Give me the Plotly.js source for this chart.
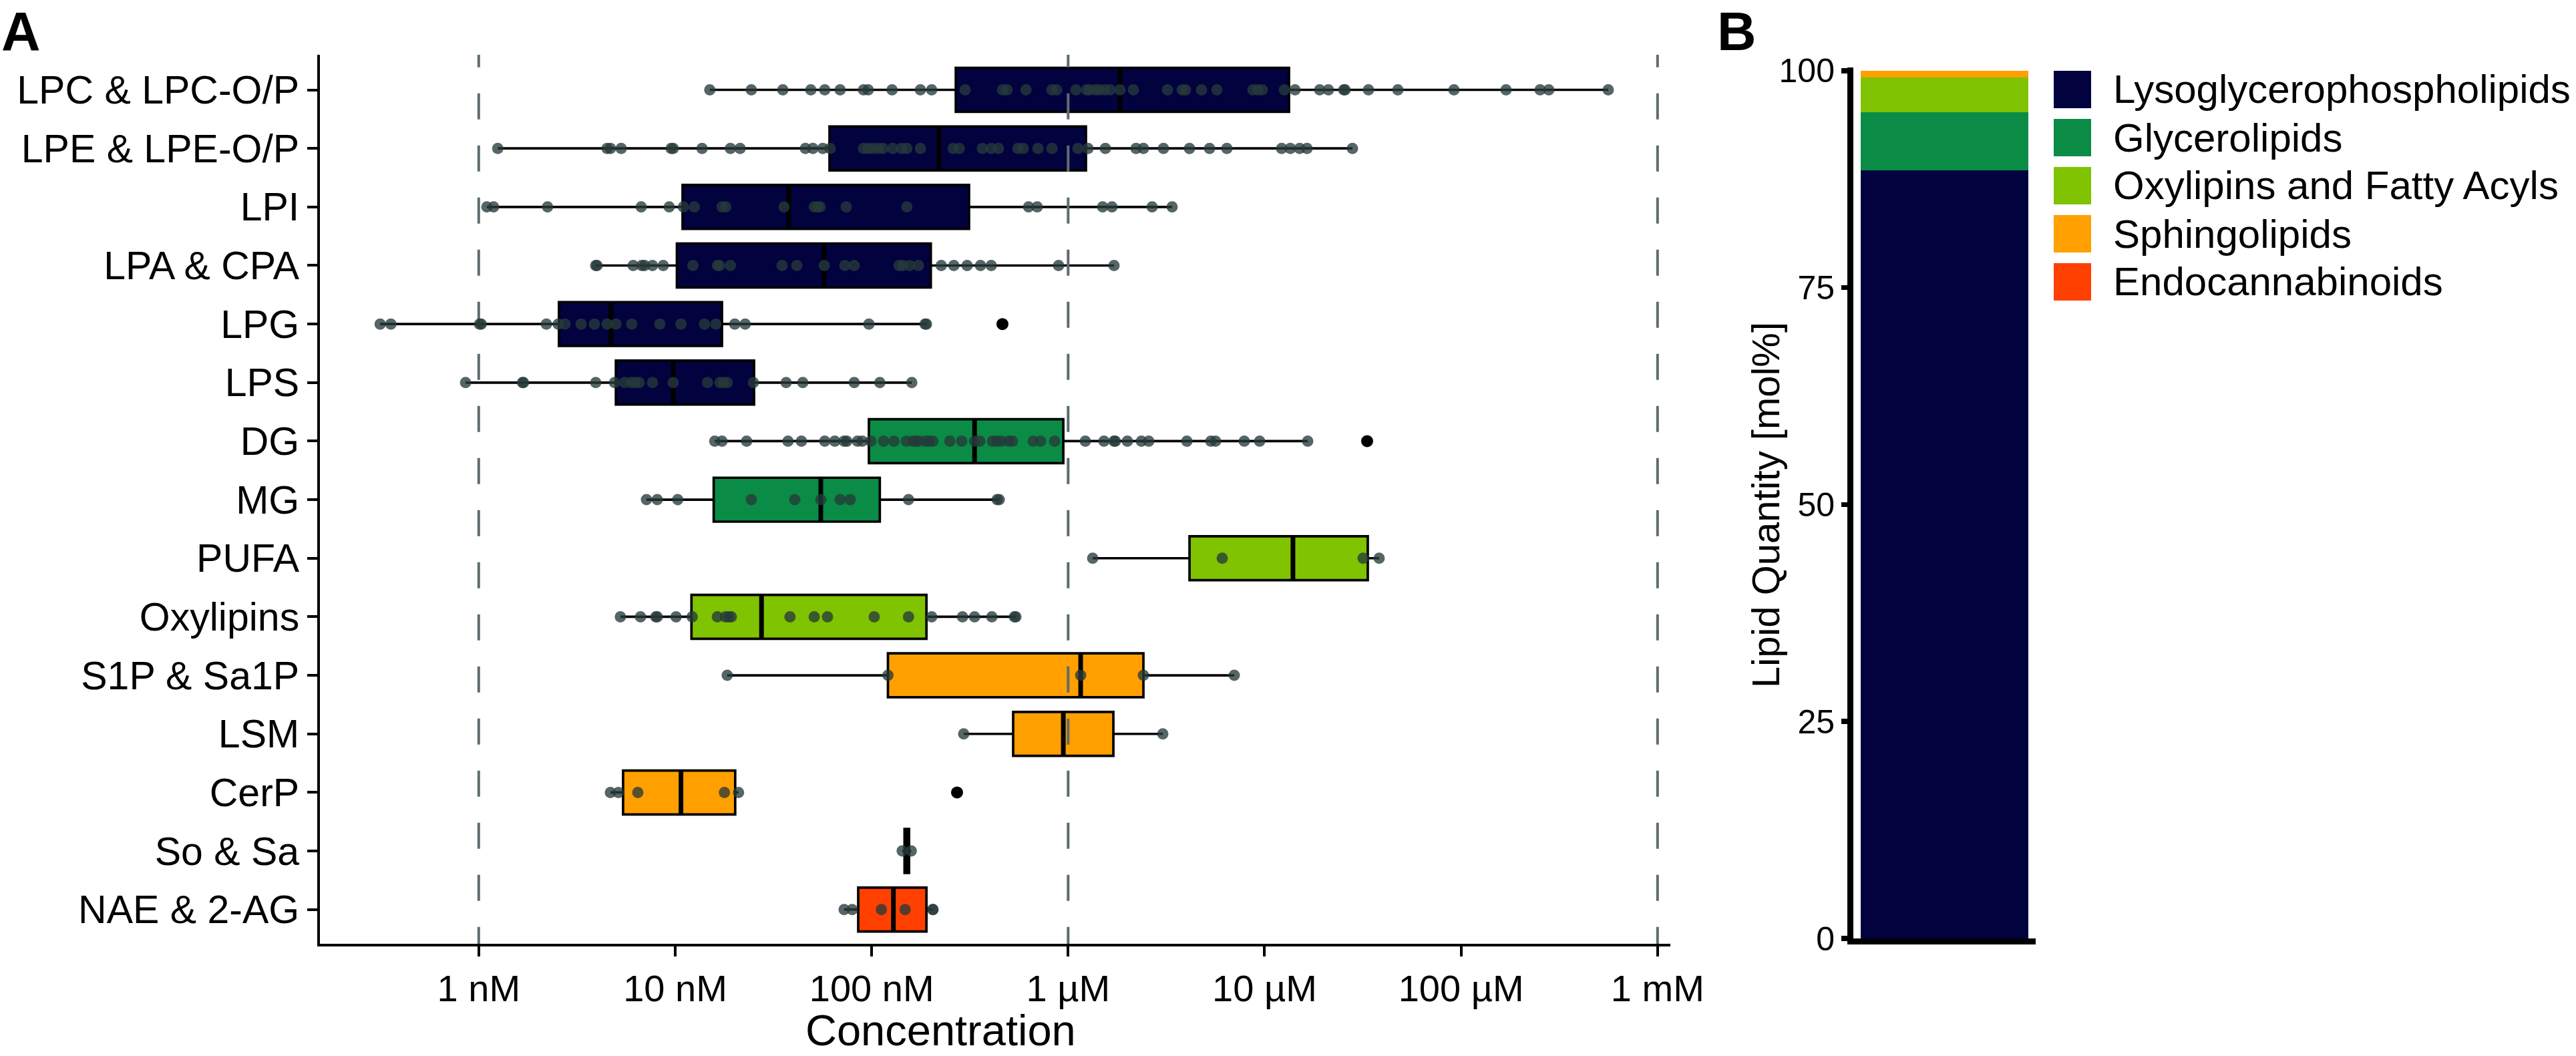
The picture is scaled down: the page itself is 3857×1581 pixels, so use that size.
<!DOCTYPE html>
<html><head><meta charset="utf-8">
<script src="https://cdn.plot.ly/plotly-3.0.1.min.js"></script>
<style>html,body{margin:0;padding:0;background:#fff;overflow:hidden}</style>
</head><body><div id="chart" style="width:3857px;height:1581px"></div>
<script>
// ---------------- DATA ----------------
const categories = ['LPC & LPC-O/P','LPE & LPE-O/P','LPI','LPA & CPA','LPG','LPS','DG','MG','PUFA','Oxylipins','S1P & Sa1P','LSM','CerP','So & Sa','NAE & 2-AG'];
const classOf = [0,0,0,0,0,0,1,1,2,2,3,3,3,3,4];
const classNames = ['Lysoglycerophospholipids','Glycerolipids','Oxylipins and Fatty Acyls','Sphingolipids','Endocannabinoids'];
const classColors = ['#02023F','#0A8C46','#80C300','#FFA000','#FF4000'];

// box statistics (concentration in nM)
const q1  = [268, 61.0, 10.9, 10.2, 2.56, 4.99, 96.8, 15.7, 4147, 12.1, 121, 525, 5.43, 147, 85.4];
const med = [1837, 220, 37.8, 57.3, 4.72, 9.77, 334, 55.1, 13940, 27.5, 1158, 945, 10.7, 150, 129];
const q3  = [13310, 1232, 313, 200, 17.3, 25.2, 945, 110, 33510, 190, 2416, 1699, 20.2, 155, 190];
const whiskerLow  = [15.0, 1.25, 1.10, 3.94, 0.315, 0.857, 15.9, 7.14, 1333, 5.26, 18.4, 294, 4.68, 143, 72.4];
const whiskerHigh = [561000, 27990, 3383, 1712, 190, 160, 16570, 446, 38280, 542, 7007, 3032, 21.0, 159, 205];

// individual lipid species (nM)
const ptsLPC = [15.0, 24.4, 35.3, 49.0, 57.7, 69.1, 90.9, 96.0, 127, 177, 202, 299, 463, 489, 610, 827, 874, 1096, 1242, 1282, 1375, 1441, 1535, 1634, 1837, 2148, 3203, 3805, 3956, 4773, 5715, 8720, 9210, 9730, 12600, 14280, 19070, 21120, 25280, 25680, 33780, 47660, 92000, 169400, 252500, 279500, 561000];
const ptsLPE = [1.25, 4.50, 4.68, 5.31, 9.54, 9.77, 13.7, 19.1, 21.4, 46.0, 50.2, 56.4, 61.5, 90.9, 96.0, 101.5, 108, 114, 128, 142, 151, 177, 260, 279, 366, 406, 442, 555, 591, 702, 827, 1122, 1262, 1547, 2216, 2416, 3056, 4147, 5245, 6427, 12210, 13520, 15080, 16440, 27990];
const ptsLPI = [1.10, 1.19, 2.24, 6.71, 9.32, 11.0, 12.5, 17.3, 18.1, 35.8, 51.0, 53.0, 54.7, 74.2, 151, 629, 696, 1498, 1672, 2675, 3383];
const ptsLPA = [3.94, 4.00, 6.11, 6.76, 6.98, 7.66, 8.69, 12.3, 16.4, 16.8, 19.1, 35.0, 41.6, 57.3, 73.0, 81.5, 138, 144, 156, 173, 226, 262, 306, 358, 406, 894, 1712];
const ptsLPG = [0.315, 0.357, 1.01, 1.03, 2.21, 2.54, 2.75, 3.32, 3.88, 4.50, 4.99, 6.01, 8.35, 10.7, 14.1, 16.1, 20.1, 22.7, 96.8, 187, 190];
const ptsLPS = [0.857, 1.67, 1.69, 3.94, 4.91, 5.52, 5.97, 6.25, 6.56, 7.66, 9.77, 14.6, 16.9, 17.6, 18.4, 25.0, 36.7, 44.6, 81.5, 110, 160];
const ptsDG  = [15.9, 17.3, 23.1, 37.5, 43.9, 57.7, 64.9, 72.4, 74.7, 84.7, 89.5, 99.1, 115, 130, 150, 162, 167, 174, 188, 196, 205, 250, 287, 334, 355, 412, 435, 456, 497, 521, 664, 724, 853, 1223, 1522, 1712, 1739, 2002, 2360, 2572, 4019, 5326, 5627, 7877, 9432, 16570];
const ptsMG  = [7.14, 8.10, 10.3, 24.4, 40.6, 55.1, 69.1, 77.7, 154, 435, 446];
const ptsPUFA = [1333, 6085, 31730, 38280];
const ptsOxy = [5.26, 6.66, 7.97, 8.10, 10.1, 12.2, 16.4, 18.0, 18.7, 19.3, 38.4, 51.0, 59.6, 103, 154, 202, 290, 334, 409, 533, 542];
const ptsS1P = [18.4, 121, 1158, 2416, 7007];
const ptsLSM = [294, 3032];
const ptsCerP = [4.68, 5.14, 6.45, 17.8, 21.0];
const ptsSo  = [143, 159];
const ptsNAE = [72.4, 79.6, 112, 148, 205, 205];

// outliers (category index, nM)
const outlierCat = [4, 6, 12];
const outlierVal = [463, 33250, 272];

// panel B: composition (mol%)
const molPct = [88.5, 6.7, 4.0, 0.78, 0.02];

// axis ticks
const xTickVals = [1, 10, 100, 1000, 10000, 100000, 1000000];
const xTickText = ['1 nM', '10 nM', '100 nM', '1 µM', '10 µM', '100 µM', '1 mM'];
const refLines = [1, 1000, 1000000];
const yTickValsB = [0, 25, 50, 75, 100];

// ---------------- BUILD ----------------
const W = 3857, H = 1581;
const FONT = 'Liberation Sans, Arial, Helvetica, sans-serif';
const allPts = [ptsLPC, ptsLPE, ptsLPI, ptsLPA, ptsLPG, ptsLPS, ptsDG, ptsMG, ptsPUFA, ptsOxy, ptsS1P, ptsLSM, ptsCerP, ptsSo, ptsNAE];
const traces = [];

// dashed reference lines
const rx = [], ry = [];
refLines.forEach(v => { rx.push(v, v, null); ry.push(-0.83, 14.7, null); });
traces.push({type:'scatter', mode:'lines', x: rx, y: ry, xaxis:'x', yaxis:'y',
  line:{color:'#5E6C6E', width:4, dash:'39px,39px'}, hoverinfo:'skip', showlegend:false});

// boxes, one trace per lipid class
classNames.forEach((cn, c) => {
  const idx = categories.map((_, i) => i).filter(i => classOf[i] === c);
  traces.push({type:'box', orientation:'h', xaxis:'x', yaxis:'y',
    y: idx, q1: idx.map(i => q1[i]), median: idx.map(i => med[i]), q3: idx.map(i => q3[i]),
    lowerfence: idx.map(i => whiskerLow[i]), upperfence: idx.map(i => whiskerHigh[i]),
    fillcolor: classColors[c], line:{color:'#000', width:3.7}, whiskerwidth:0, width:0.75,
    boxpoints:false, hoverinfo:'skip', showlegend:false});
});

// thick medians
const mx = [], my = [];
categories.forEach((_, i) => { mx.push(med[i], med[i], null); my.push(i - 0.365, i + 0.365, null); });
traces.push({type:'scatter', mode:'lines', x: mx, y: my, xaxis:'x', yaxis:'y',
  line:{color:'#000', width:7}, hoverinfo:'skip', showlegend:false});

// species points
const px = [], pyv = [];
allPts.forEach((arr, i) => arr.forEach(v => { px.push(v); pyv.push(i); }));
traces.push({type:'scatter', mode:'markers', x: px, y: pyv, xaxis:'x', yaxis:'y',
  marker:{color:'rgba(38,58,58,0.78)', size:17, line:{width:0}}, hoverinfo:'skip', showlegend:false});

// outliers
traces.push({type:'scatter', mode:'markers', x: outlierVal, y: outlierCat, xaxis:'x', yaxis:'y',
  marker:{color:'#000', size:18, line:{width:0}}, hoverinfo:'skip', showlegend:false});

// panel B stacked bar
classNames.forEach((cn, c) => {
  traces.push({type:'bar', x:[0], y:[molPct[c]], width:0.92, xaxis:'x2', yaxis:'y2', name: cn,
    marker:{color: classColors[c], line:{width:0}}, hoverinfo:'skip', showlegend:false});
});

// legend (custom, large keys)
const shapes = [], annotations = [];
const legTop = 106, legStep = 72, key = 56, keyX = 3075, txtX = 3162;
classNames.forEach((cn, c) => {
  const t = legTop + c * legStep;
  shapes.push({type:'rect', xref:'paper', yref:'paper', x0: keyX / W, x1: (keyX + key) / W,
    y0: 1 - (t + key) / H, y1: 1 - t / H, fillcolor: classColors[c], line:{width:0}});
  annotations.push({xref:'paper', yref:'paper', x: txtX / W, y: 1 - (t + key / 2) / H,
    xanchor:'left', yanchor:'middle', text: cn, showarrow:false, font:{family: FONT, size:60, color:'#000'}});
});

// panel labels and titles
annotations.push({xref:'paper', yref:'paper', x: 0, y: 1, xanchor:'left', yanchor:'top',
  text:'<b>A</b>', showarrow:false, font:{family: FONT, size:81, color:'#000'}});
annotations.push({xref:'paper', yref:'paper', x: 2569 / W, y: 1, xanchor:'left', yanchor:'top',
  text:'<b>B</b>', showarrow:false, font:{family: FONT, size:81, color:'#000'}});
annotations.push({xref:'paper', yref:'paper', x: 1408 / W, y: 0, xanchor:'center', yanchor:'bottom',
  text:'Concentration', showarrow:false, font:{family: FONT, size:65, color:'#000'}});
annotations.push({xref:'paper', yref:'paper', x: 2643 / W, y: 1 - 756 / H, xanchor:'center', yanchor:'middle',
  textangle:-90, text:'Lipid Quantity [mol%]', showarrow:false, font:{family: FONT, size:58, color:'#000'}});

const layout = {
  width: W, height: H, margin:{l:0, r:0, t:0, b:0}, paper_bgcolor:'#fff', plot_bgcolor:'rgba(0,0,0,0)',
  font:{family: FONT, color:'#000'}, showlegend:false, barmode:'stack',
  xaxis:{type:'log', domain:[479 / W, 2501 / W], range:[(479 - 716.8) / 294.17, (2501 - 716.8) / 294.17],
    anchor:'y', showline:true, linecolor:'#000', linewidth:4, ticks:'outside', ticklen:15, tickwidth:4, tickcolor:'#000',
    tickmode:'array', tickvals: xTickVals, ticktext: xTickText, tickfont:{family: FONT, size:56, color:'#000'},
    showgrid:false, zeroline:false},
  yaxis:{domain:[1 - 1413 / H, 1 - 82 / H], range:[14.585, -0.599], anchor:'x',
    showline:true, linecolor:'#000', linewidth:4, ticks:'outside', ticklen:15, tickwidth:4, tickcolor:'#000',
    tickmode:'array', tickvals: categories.map((_, i) => i), ticktext: categories,
    tickfont:{family: FONT, size:59, color:'#000'}, showgrid:false, zeroline:false},
  xaxis2:{domain:[2775 / W, 3048 / W], range:[-0.5, 0.5], anchor:'y2', showline:true, linecolor:'#000', linewidth:9,
    showticklabels:false, ticks:'', showgrid:false, zeroline:false},
  yaxis2:{domain:[1 - 1405 / H, 1 - 101 / H], range:[0, 100.38], anchor:'x2', showline:true, linecolor:'#000', linewidth:9,
    ticks:'outside', ticklen:9, tickwidth:7.5, tickcolor:'#000', tickmode:'array', tickvals: yTickValsB,
    tickfont:{family: FONT, size:50, color:'#000'}, showgrid:false, zeroline:false},
  shapes: shapes, annotations: annotations
};

Plotly.newPlot('chart', traces, layout, {staticPlot:true, displayModeBar:false});
</script></body></html>
